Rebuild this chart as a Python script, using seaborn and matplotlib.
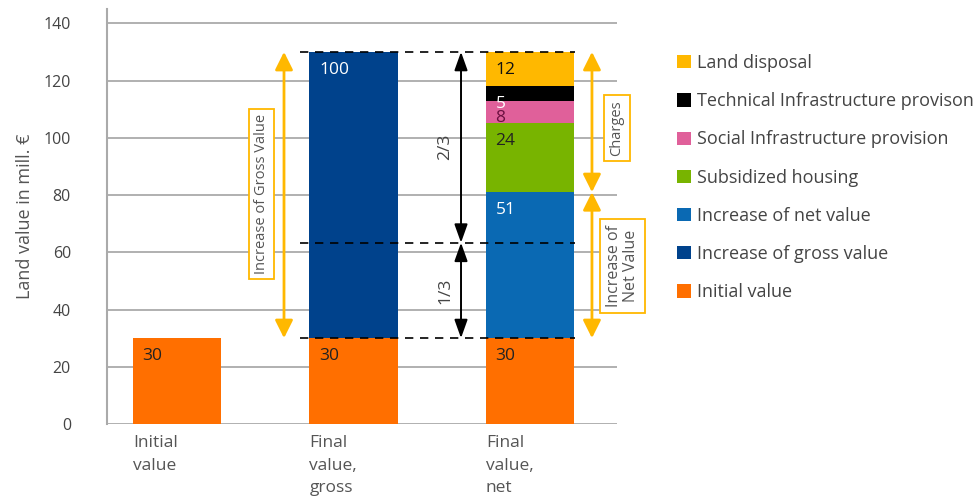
import matplotlib
matplotlib.use("Agg")
import matplotlib.pyplot as plt
import seaborn as sns
import numpy as np

categories = ["Initial\nvalue", "Final\nvalue,\ngross", "Final\nvalue,\nnet"]
series_names = ["Initial value", "Increase of gross value", "Increase of net value",
                "Subsidized housing", "Social Infrastructure provision",
                "Technical Infrastructure provison", "Land disposal"]
initial_value = [30, 30, 30]
gross_increase = [0, 100, 0]
net_increase = [0, 0, 51]
subsidized_housing = [0, 0, 24]
social_infra = [0, 0, 8]
technical_infra = [0, 0, 5]
land_disposal = [0, 0, 12]
colors = ["#FF6F00", "#00428C", "#0A69B3", "#78B400", "#E0609A", "#000000", "#FFB800"]
label_colors = ["#222222", "white", "white", "#222222", "#6B1040", "white", "#111111"]
y_ticks = [0, 20, 40, 60, 80, 100, 120, 140]

sns.set_style("white")
plt.rcParams["font.family"] = ["Open Sans", "DejaVu Sans"]

fig = plt.figure(figsize=(9.78, 4.98), dpi=100)
ax = fig.add_axes([0.1094, 0.1486, 0.6309 - 0.1094, 0.982 - 0.1486])

layers = [initial_value, gross_increase, net_increase, subsidized_housing,
          social_infra, technical_infra, land_disposal]
bottom = np.zeros(len(categories))
for name, vals, col, tcol in zip(series_names, layers, colors, label_colors):
    vals = np.array(vals, dtype=float)
    sns.barplot(x=categories, y=vals, bottom=bottom, color=col, width=0.5,
                linewidth=0, saturation=1, errorbar=None, ax=ax, label=name,
                order=categories, zorder=2)
    for i, v in enumerate(vals):
        if v > 0:
            ax.annotate(f"{int(v)}", xy=(i - 0.25, bottom[i] + v), xytext=(7, -7),
                        textcoords="offset points", ha="left", va="top",
                        fontsize=12.5, color=tcol, zorder=5)
    bottom = bottom + vals
if ax.get_legend() is not None:
    ax.get_legend().remove()

ax.set_xlim(-0.397, 2.493)
ax.set_ylim(0, 145)
ax.set_yticks(y_ticks)
ax.yaxis.grid(True, color="#AAAAAA", linewidth=1.3, zorder=0)
ax.set_axisbelow(True)
for s in ["top", "right", "bottom"]:
    ax.spines[s].set_visible(False)
ax.spines["left"].set_color("#AAAAAA")
ax.spines["left"].set_linewidth(1.5)
ax.tick_params(axis="y", length=12, width=1.3, color="#AAAAAA", pad=14,
               labelsize=11.5, labelcolor="#444444")
ax.set_xticks(np.arange(len(categories)) - 0.25)
ax.set_xticklabels(categories, ha="left", fontsize=12.5, color="#555555", linespacing=1.55)
ax.tick_params(axis="x", length=0, pad=8)
ax.set_ylabel("Land value in mill. €", fontsize=13, color="#555555", labelpad=7)

total_gross = initial_value[1] + gross_increase[1]
base = initial_value[1]
third = base + gross_increase[1] / 3

yellow = "#FFB800"
# dashed reference lines
for yv in [total_gross, third, base]:
    ax.plot([0.697, 2.255], [yv, yv], color="black", linestyle=(0, (5, 4)), lw=1.2, zorder=6)

def darrow(x, y0, y1, color, lw, hl, hw, ms):
    ax.annotate("", xy=(x, y0), xytext=(x, y1),
                arrowprops=dict(arrowstyle=f"<|-|>,head_length={hl},head_width={hw}",
                                color=color, lw=lw, shrinkA=0, shrinkB=0,
                                mutation_scale=ms), zorder=6, annotation_clip=False)

darrow(0.606, base, total_gross, yellow, 2, 0.6, 0.3, 18)
darrow(1.609, third, total_gross, "black", 1.4, 0.7, 0.25, 16)
darrow(1.609, base, third, "black", 1.4, 0.7, 0.25, 16)
net_top = base + net_increase[2]
darrow(2.351, net_top, total_gross, yellow, 2, 0.6, 0.3, 18)
darrow(2.351, base, net_top, yellow, 2, 0.6, 0.3, 18)

box = dict(boxstyle="square,pad=0.35", fc="white", ec=yellow, lw=1.3)
ax.text(0.48, 80.3, "Increase of Gross Value", rotation=90, ha="center", va="center",
        fontsize=10.5, color="#555555", bbox=box, zorder=7)
ax.text(2.493, 103.4, "Charges", rotation=90, ha="center", va="center",
        fontsize=10.5, color="#555555", bbox=box, zorder=7, clip_on=False)
ax.text(2.525, 55.2, "Increase of\nNet Value", rotation=90, ha="center", va="center",
        fontsize=11.5, color="#555555", bbox=box, zorder=7, clip_on=False, linespacing=1.1)
ax.text(1.518, (third + total_gross) / 2, "2/3", rotation=90, ha="center", va="center",
        fontsize=12.5, color="#444444", zorder=7)
ax.text(1.518, (base + third) / 2, "1/3", rotation=90, ha="center", va="center",
        fontsize=12.5, color="#444444", zorder=7)

handles, labels = ax.get_legend_handles_labels()
leg = fig.legend(handles[::-1], labels[::-1], loc="upper left",
                 bbox_to_anchor=(668 / 978, 1 - 45 / 498), frameon=False,
                 fontsize=13, labelcolor="#444444", handlelength=0.8,
                 handleheight=0.75, handletextpad=0.3, labelspacing=1.12, borderpad=0)

fig.savefig("out.png", dpi=100)
